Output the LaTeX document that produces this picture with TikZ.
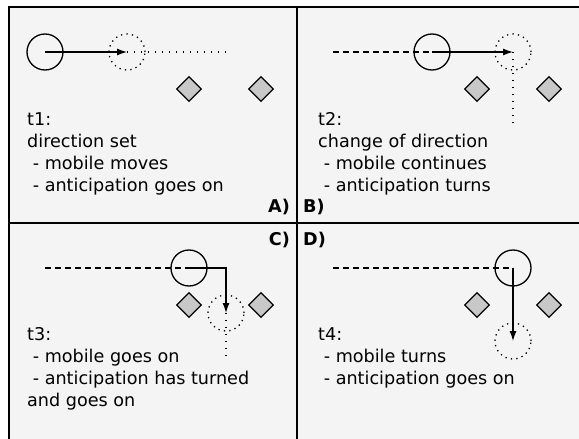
\documentclass[tikz,border=0pt]{standalone}
\usepackage{fontspec}
\setmainfont{DejaVu Sans}
\usetikzlibrary{arrows.meta,shapes.geometric,positioning}
\definecolor{panelbg}{RGB}{244,244,244}
\definecolor{blockgrey}{RGB}{200,200,200}
\newcommand{\dashindent}{\hspace*{0.32em}}

\begin{document}
\begin{tikzpicture}[x=1pt,y=-1pt,
    mobile/.style={circle, draw, line width=1.3pt, minimum size=36pt, inner sep=0pt},
    anticip/.style={circle, draw, line width=1.3pt, dash pattern=on 1.3pt off 4.2pt, minimum size=36pt, inner sep=0pt},
    obstacle/.style={diamond, draw, fill=blockgrey, line width=1.3pt, minimum size=25pt, inner sep=0pt},
    note/.style={anchor=base west, align=left, inner sep=0pt, font=\fontsize{17.6}{22}\selectfont},
    tag/.style={inner sep=0pt, font=\fontsize{17.6}{22}\selectfont\bfseries},
    move/.style={-{Latex[length=10pt,width=7pt]}, line width=1.3pt},
    past/.style={line width=1.3pt, dash pattern=on 6pt off 4pt},
    ahead/.style={line width=1.3pt, dash pattern=on 1.3pt off 5.7pt}]
    \useasboundingbox (0,0) rectangle (579,439);
    \fill[white] (0,0) rectangle (579,439);
    \fill[panelbg] (9,7) rectangle (579,439);
    % frame and dividers
    \draw[line width=2pt] (9,439) -- (9,7) -- (579,7);
    \draw[line width=2pt] (297,7) -- (297,439);
    \draw[line width=2pt] (9,223) -- (579,223);

    % A) t1  (note is placed by the baseline of its last line)
    \node[obstacle] (oa1) at (189,89) {};
    \node[obstacle] (oa2) at (261,89) {};
    \node[mobile] (m1) at (45,52) {};
    \node[anticip] (a1) at (127,52) {};
    \coordinate (e1) at (227,52);
    \draw[ahead] (a1.center) -- (e1);
    \draw[move] (m1.center) -- (a1.center);
    \node[note] (t1) at (27,191) {t1:\\direction set\\\dashindent- mobile moves\\\dashindent- anticipation goes on};
    \node[tag, anchor=base east] (la) at (290,212) {A)};

    % B) t2
    \node[obstacle] (ob1) at (477,89) {};
    \node[obstacle] (ob2) at (549,89) {};
    \node[mobile] (m2) at (432,52) {};
    \node[anticip] (a2) at (513,52) {};
    \coordinate (s2) at (333,52);
    \coordinate (e2) at (513,125);
    \draw[past] (s2) -- (m2.center);
    \draw[ahead] (a2.center) -- (e2);
    \draw[move] (m2.center) -- (a2.center);
    \node[note] (t2) at (318,191) {t2:\\change of direction\\\dashindent- mobile continues\\\dashindent- anticipation turns};
    \node[tag, anchor=base west] (lb) at (303,212) {B)};

    % C) t3
    \node[obstacle] (oc1) at (189,305) {};
    \node[obstacle] (oc2) at (261,305) {};
    \node[mobile] (m3) at (189,268) {};
    \node[anticip] (a3) at (226,313) {};
    \coordinate (s3) at (45,268);
    \coordinate (e3) at (226,358);
    \draw[past] (s3) -- (m3.center);
    \draw[ahead] (a3.center) -- (e3);
    \draw[move] (m3.center) -| (a3.center);
    \node[note] (t3) at (27,406) {t3:\\\dashindent- mobile goes on\\\dashindent- anticipation has turned\\and goes on};
    \node[tag, anchor=base east] (lc) at (290,245) {C)};

    % D) t4
    \node[obstacle] (od1) at (477,305) {};
    \node[obstacle] (od2) at (549,305) {};
    \node[mobile] (m4) at (513,268) {};
    \node[anticip] (a4) at (513,341) {};
    \coordinate (s4) at (333,268);
    \draw[past] (s4) -- (m4.center);
    \draw[move] (m4.center) -- (a4.center);
    \node[note] (t4) at (318,384) {t4:\\\dashindent- mobile turns\\\dashindent- anticipation goes on};
    \node[tag, anchor=base west] (ld) at (303,245) {D)};
\end{tikzpicture}
\end{document}
